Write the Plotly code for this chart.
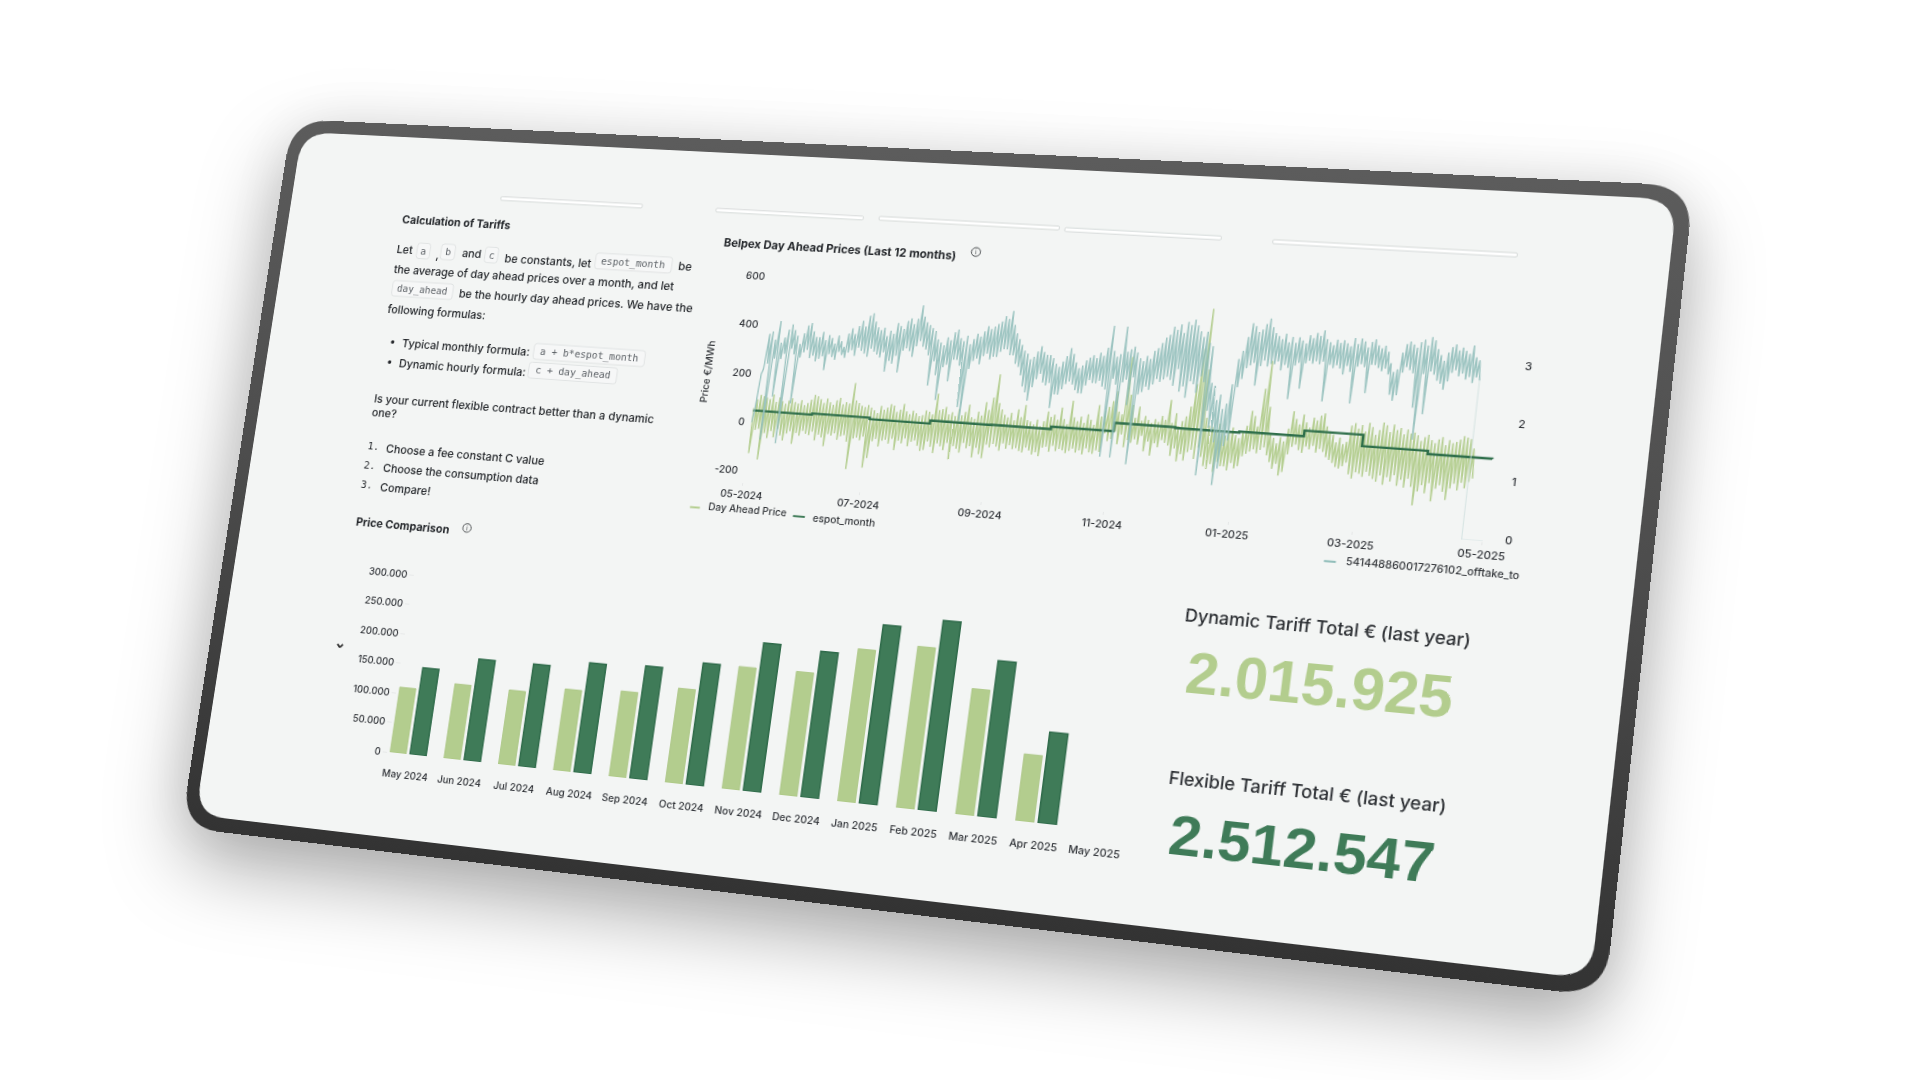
import json
import numpy as np
import pandas as pd
import plotly.graph_objects as go

# ---------- data ----------
months = ["May 2024","Jun 2024","Jul 2024","Aug 2024","Sep 2024","Oct 2024","Nov 2024","Dec 2024",
          "Jan 2025","Feb 2025","Mar 2025","Apr 2025","May 2025"]
dynamic_tariff = [110000,125000,124000,135000,141000,155000,200000,201000,247000,260000,201000,106000,None]
flexible_tariff = [146000,170000,171000,182000,186000,200000,242000,237000,289000,305000,249000,144000,None]

espot_dates = ["2024-05-01","2024-06-01","2024-07-01","2024-08-01","2024-09-01","2024-10-01","2024-11-01",
               "2024-12-01","2025-01-01","2025-02-01","2025-03-01","2025-04-01","2025-05-01"]
espot_month = [49,54,48,60,61,71,104,101,105,127,83,71,70]

day_ahead = [
 60,-126,95,-30,115,-25,110,-150,105,-40,100,-60,120,-30,90,-55,110,-20,95,-45,85,-65,100,-35,110,-25,95,-75,90,-30,105,-40,85,-20,95,-30,
 110,-35,130,-20,125,-55,115,-30,100,-40,120,-75,105,-25,95,-30,115,-20,125,-45,100,-30,110,-25,105,-50,190,-160,120,-35,110,-30,100,-40,95,-25,
 105,-150,95,-110,85,-40,75,-30,105,-60,90,-35,100,-30,115,-45,110,-25,85,-70,95,-30,120,-40,90,-20,80,-50,95,-30,85,-25,75,-45,80,-65,
 100,-60,95,-25,85,-45,170,-70,105,-30,110,-40,120,-55,90,-25,100,-90,85,-35,115,-45,90,-60,105,-20,135,-40,85,-30,80,-75,110,-35,95,-60,
 150,-75,120,-20,170,-30,265,-15,150,-25,125,-40,105,-10,95,-30,115,-15,85,-30,130,-25,100,-35,150,-40,90,-20,85,-30,75,-45,95,-35,70,-50,
 90,-15,130,-10,110,-30,120,-5,100,-25,150,-15,105,-20,85,-30,180,-20,115,-10,100,-25,120,-15,95,-30,130,-5,110,-20,90,-25,170,-10,125,-15,
 150,60,165,30,190,40,230,70,150,20,140,60,370,10,220,40,180,30,130,45,175,25,120,60,140,0,125,40,115,-15,130,35,120,20,145,50,
 130,40,210,30,120,-10,160,20,110,-30,130,0,150,-25,190,10,280,20,420,-15,580,30,340,-5,150,-40,120,-50,115,-30,100,-60,130,-20,95,-35,
 85,-35,100,-50,120,-20,90,-40,80,-30,110,10,130,20,190,30,170,40,130,25,280,40,390,50,210,20,110,-5,90,-30,70,-10,95,-55,80,-40,
 130,30,200,60,170,70,150,50,190,40,160,65,140,55,180,70,170,45,190,60,200,50,150,30,130,20,120,10,90,-5,110,-10,85,0,95,15,
 160,-30,170,-45,150,-20,165,-25,140,-35,175,-15,160,-30,130,-40,150,-50,180,-25,170,-60,145,-30,175,-45,155,-20,165,-60,140,-35,160,-65,145,-30,
 150,-60,140,-130,120,-75,135,-50,145,-80,125,-40,115,-110,130,-60,140,-45,110,-70,130,-100,120,-55,125,-35,135,-60,150,-30,145,-50,140,-25,105,-10,
]
offtake = [
 1.1,1.3,2.0,2.1,2.75,2.2,2.8,0.8,2.65,2.3,3.0,1.6,2.6,2.3,2.7,2.4,2.85,0.75,2.95,2.5,2.85,2.4,2.75,1.5,2.6,2.35,2.8,2.45,2.95,2.5,3.0,2.35,2.85,2.4,2.75,2.3,
 2.75,2.35,2.85,2.4,2.7,2.15,2.8,2.45,2.75,2.4,2.65,2.35,2.8,2.5,2.7,2.45,2.6,2.4,2.85,2.5,2.95,2.55,2.85,2.45,3.0,2.6,3.1,2.55,3.0,2.5,3.2,2.45,3.25,2.6,3.1,2.55,
 3.0,2.5,2.95,2.45,3.0,2.55,2.85,2.2,2.95,2.4,2.9,2.35,3.1,2.5,3.05,2.2,3.0,2.6,3.15,2.65,3.2,2.6,3.1,2.5,3.2,2.7,3.45,2.8,3.25,2.7,3.15,2.65,3.1,2.55,3.05,2.0,
 3.0,2.45,2.85,2.2,2.8,1.75,2.75,2.35,2.9,2.4,2.85,2.1,3.0,2.5,3.05,2.5,2.9,2.4,2.85,1.65,2.95,1.4,2.8,2.35,2.9,2.5,3.0,2.55,2.95,2.45,3.05,2.6,3.15,2.65,3.1,2.55,
 3.15,2.6,3.2,2.6,3.25,2.7,3.35,2.75,3.3,2.75,3.45,2.65,3.2,2.65,3.05,2.5,2.95,2.45,2.85,2.3,2.75,2.1,2.7,2.0,2.6,1.85,2.65,2.1,2.75,2.25,2.85,2.35,2.75,2.2,2.7,2.15,
 2.7,2.2,2.65,1.75,2.55,2.0,2.5,2.0,2.6,2.1,2.7,2.2,2.85,2.25,2.75,2.2,2.6,2.1,2.5,2.05,2.55,2.05,2.65,2.2,2.7,2.3,2.75,2.25,2.7,2.25,2.8,2.3,2.75,2.2,2.9,2.15,
 3.3,0.95,2.85,2.35,2.75,2.25,2.8,0.95,3.3,2.3,2.85,2.35,2.9,1.9,2.95,2.4,2.85,0.85,2.75,2.1,2.7,2.15,2.8,2.25,2.75,2.2,2.9,2.3,2.95,2.4,3.05,2.35,3.15,2.4,3.2,2.45,
 3.35,2.4,3.3,2.3,3.4,2.6,3.25,2.2,3.45,2.3,3.4,2.1,3.5,2.4,3.4,2.35,3.3,2.2,3.2,2.5,3.3,2.4,3.1,0.75,3.05,1.9,2.4,1.6,2.35,1.55,2.1,1.35,2.2,0.6,1.95,0.9,
 2.05,1.3,2.4,1.4,2.85,2.35,3.0,2.5,3.25,2.7,3.5,2.75,3.45,2.8,3.35,2.4,3.4,2.75,3.5,2.85,3.6,2.75,3.45,2.8,3.35,2.8,3.3,2.85,3.25,2.7,3.35,2.8,3.2,2.75,3.3,2.2,
 3.2,2.8,3.3,2.85,3.25,2.4,3.2,2.85,3.35,2.9,3.3,2.85,3.4,2.9,3.35,2.85,3.45,2.9,3.3,2.2,3.25,2.85,3.2,2.8,3.3,2.85,3.25,2.8,3.3,2.7,3.25,2.85,3.2,2.75,3.35,2.2,
 3.25,2.85,3.35,2.9,3.3,2.85,3.2,2.4,3.3,2.9,3.35,2.9,3.25,2.85,3.2,2.8,3.25,2.85,3.15,2.75,2.95,2.4,2.8,2.3,2.85,2.4,3.15,2.8,3.3,2.9,3.35,2.85,3.3,2.8,3.25,2.2,
 3.35,1.65,3.4,2.8,3.3,2.1,3.45,2.85,3.4,2.8,3.25,2.7,3.15,2.65,3.05,2.55,3.2,2.7,3.3,2.85,3.35,2.9,3.25,2.8,3.3,2.85,3.25,2.75,3.2,2.8,3.35,2.7,3.15,2.8,3.1,2.75,
]
offtake_tail_dates = ["2025-04-21","2025-04-21 06:00","2025-05-01"]
offtake_tail = [2.75,0,0]

price_ticks = [-200,0,200,400,600]
price_labels = ["-200","0","200","400","600"]
offtake_ticks = [0,1,2,3]
date_ticks = ["2024-05-01","2024-07-01","2024-09-01","2024-11-01","2025-01-01","2025-03-01","2025-05-01"]
date_labels = ["05-2024","07-2024","09-2024","11-2024","01-2025","03-2025","05-2025"]
bar_ticks = [0,50000,100000,150000,200000,250000,300000]

LIGHT="#b3cd8e"; DARK="#3f7b58"; DARK_EDGE="#2f6b4a"; TEAL="#8fbdb9"; SCREEN="#f3f5f4"; INK="#24272b"

# ---------- flat page <-> photo mapping ----------
W,H = 1440,780
corners = [(292,119),(1694,186),(1605,997),(181,827.4)]
flat = [(0,0),(W,0),(W,H),(0,H)]
A=[];b=[]
for (x,y),(u,v) in zip(flat,corners):
    A.append([x,y,1,0,0,0,-u*x,-u*y]); b.append(u)
    A.append([0,0,0,x,y,1,-v*x,-v*y]); b.append(v)
h=np.linalg.solve(np.array(A,float),np.array(b,float))
M=np.array([[h[0],h[1],h[2]],[h[3],h[4],h[5]],[h[6],h[7],1.0]])
Mi=np.linalg.inv(M)
def P(x,y):
    p=Mi@np.array([x,y,1.0]); return p[0]/p[2],p[1]/p[2]
def fx(x): return x/W
def fy(y): return 1-y/H

shapes=[];ann=[]
def rrect(x0,y0,x1,y1,r):
    pts=[("M",x0+r,y0),("L",x1-r,y0),("Q",x1,y0,x1,y0+r),("L",x1,y1-r),("Q",x1,y1,x1-r,y1),
         ("L",x0+r,y1),("Q",x0,y1,x0,y1-r),("L",x0,y0+r),("Q",x0,y0,x0+r,y0)]
    s=""
    for p in pts:
        s+=p[0]+" "+" ".join(f"{fx(p[i]):.5f},{fy(p[i+1]):.5f}" for i in range(1,len(p),2))+" "
    return s+"Z"
def box(x0,y0,x1,y1,r,fill,line="rgba(0,0,0,0)",lw=0,layer="below",name=None):
    d=dict(type="path",xref="paper",yref="paper",path=rrect(x0,y0,x1,y1,r),fillcolor=fill,
           line=dict(color=line,width=lw),layer=layer)
    if name: d["name"]=name
    shapes.append(d)
def seg(x0,y0,x1,y1,color,w):
    shapes.append(dict(type="line",xref="paper",yref="paper",x0=fx(x0),y0=fy(y0),x1=fx(x1),y1=fy(y1),
                       line=dict(color=color,width=w),layer="above"))
def text(sx,sy,s,size=12,color=INK,family="Inter",anchor="left",angle=0,weight=400):
    x,y=P(sx,sy)
    ann.append(dict(xref="paper",yref="paper",x=fx(x),y=fy(y),text=s,showarrow=False,xanchor=anchor,yanchor="middle",
                    textangle=angle,font=dict(size=size,color=color,family=family,weight=weight),borderpad=0))
def chip(sx0,sx1,sy,s,size=10.5):
    cx,cy=P((sx0+sx1)/2,sy); xa,_=P(sx0,sy); xb,_=P(sx1,sy); hw=(xb-xa)/2
    box(cx-hw,cy-8.5,cx+hw,cy+8.5,3,"#f6f7f7","#e0e3e3",1)
    text((sx0+sx1)/2,sy,s,size,"#5c6166","DejaVu Sans Mono","center")
def info(sx,sy):
    x,y=P(sx,sy)
    shapes.append(dict(type="circle",xref="paper",yref="paper",x0=fx(x-4.6),x1=fx(x+4.6),y0=fy(y+4.6),y1=fy(y-4.6),
                       line=dict(color="#4a4d50",width=1),fillcolor="rgba(0,0,0,0)",layer="above"))
    text(sx,sy,"i",7,"#4a4d50","Inter","center")
def strip(sx0,sy0,sx1,sy1):
    a=P(sx0,sy0);c=P(sx1,sy1)
    box(a[0],c[1]-4,c[0],c[1],1,"#ffffff","#d5d9d8",1)

# device
box(0,0,W,H,46,"#464646",name="device")
box(14,14,W-14,H-15,34,SCREEN)
for s in [(501,198,642,208),(716,211,863,220),(879,220,1059,230),(1065,229,1221,240),(1273,241,1517,257)]:
    strip(*s)

# left text
text(401,219,"Calculation of Tariffs",12,weight=650)
b1=dict(size=12.1,weight=480)
text(396,249,"Let",**b1); chip(417,430,251,"a"); text(435,255,",",**b1); chip(441,455,252,"b")
text(461,253,"and",**b1); chip(485,498,255,"c"); text(504,258,"be constants, let",**b1)
chip(595,672,263,"espot_month"); text(677,266,"be",**b1)
text(393,269,"the average of day ahead prices over a month, and let",**b1)
chip(392,453,290,"day_ahead"); text(458,293,"be the hourly day ahead prices. We have the",**b1)
text(387,309,"following formulas:",**b1)
text(389,341,"•",**b1); text(401,343,"Typical monthly formula:",**b1); chip(533,645,355,"a + b*espot_month")
text(386,361,"•",**b1); text(398,363,"Dynamic hourly formula:",**b1); chip(528,617,373,"c + day_ahead")
text(373,398,"Is your current flexible contract better than a dynamic",**b1)
text(371,412,"one?",**b1)
text(367,446,"1.",11,INK,"DejaVu Sans Mono"); text(385,448,"Choose a fee constant C value",**b1)
text(363,465,"2.",11,INK,"DejaVu Sans Mono"); text(382,468,"Choose the consumption data",**b1)
text(360,484,"3.",11,INK,"DejaVu Sans Mono"); text(379,487,"Compare!",**b1)
text(355,521,"Price Comparison",12,weight=650); info(467,528)
text(723,242,"Belpex Day Ahead Prices (Last 12 months)",11.9,weight=650); info(976,252)

# KPI
text(1184,615,"Dynamic Tariff Total € (last year)",17.3,"#2d3034",weight=450)
text(1168,777,"Flexible Tariff Total € (last year)",17.3,"#2d3034",weight=450)
text(1185,673,"<b>2.015.925</b>",56.5,LIGHT,"Liberation Sans")
text(1168,834,"<b>2.512.547</b>",56,DARK,"Liberation Sans")

# chevron
cx,cy=P(340,646)
seg(cx-3,cy-2,cx,cy+1.5,"#333",2); seg(cx+3,cy-2,cx,cy+1.5,"#333",2)

# ---------- bar chart geometry ----------
bx0,by0=P(388,752)
_,by300=P(413,575)
c0,_=P(408,754.5); c12,_=P(1097,829)
pitch=(c12-c0)/12
bx1=c12+pitch/2
bar_max=320000
bar_top=by0-(by0-by300)*bar_max/300000
bar_left_val=(bx0-c0)/pitch

# ---------- time chart geometry ----------
tx0,tyb=P(743,482)
txe,_=P(1483,539)
txr,_=P(1492,540)
_,yp600=P(770,277); _,ypm200=P(745,471)
pp=(ypm200-yp600)/800
t_top=yp600-12
p_min=-200-(tyb-ypm200)/pp
p_max=600+(yp600-t_top)/pp
_,y20=P(1508,540); _,y23=P(1528,366)
up=(y20-y23)/3
o_max=(tyb-t_top)/up
extra=365*(txr-txe)/(txe-tx0)
t_end=pd.Timestamp("2025-05-01")+pd.Timedelta(days=extra)

# legends drawn next to the chart
def sample(sx0,sx1,sy,color):
    a=P(sx0,sy);c=P(sx1,sy); seg(a[0],a[1],c[0],a[1],color,2)
sample(690,700,507,LIGHT); text(707,507,"Day Ahead Price",10.4,"#33363a",weight=480)
sample(793,805,516,DARK); text(812,518,"espot_month",10.4,"#33363a",weight=480)
sample(1324,1336,561,TEAL); text(1345,561,"541448860017276102_offtake_to",10.2,"#33363a",weight=480)
text(708,372,"Price €/MWh",10.5,"#33363a","Inter","center",-90,weight=480)

fig=go.Figure()
fig.add_bar(x=months,y=dynamic_tariff,name="Dynamic",width=0.30,offset=-0.335,
            marker=dict(color=LIGHT,line=dict(color="#a9c582",width=0.8)),xaxis="x",yaxis="y")
fig.add_bar(x=months,y=flexible_tariff,name="Flexible",width=0.30,offset=0.035,
            marker=dict(color=DARK,line=dict(color=DARK_EDGE,width=1.5)),xaxis="x",yaxis="y")

x_da=pd.date_range("2024-05-01","2025-04-23",periods=len(day_ahead))
x_off=pd.date_range("2024-05-01","2025-04-21",periods=len(offtake))
fig.add_scatter(x=x_off,y=offtake,mode="lines",name="541448860017276102_offtake_tot",
                line=dict(color=TEAL,width=1.4),opacity=0.85,xaxis="x2",yaxis="y3")
fig.add_scatter(x=offtake_tail_dates,y=offtake_tail,mode="lines",showlegend=False,
                line=dict(color="#cfe0de",width=0.8),xaxis="x2",yaxis="y3")
fig.add_scatter(x=x_da,y=day_ahead,mode="lines",name="Day Ahead Price",line=dict(color=LIGHT,width=1.4),opacity=0.95,xaxis="x2",yaxis="y2")
fig.add_scatter(x=espot_dates,y=espot_month,mode="lines",name="espot_month",line=dict(color="#2f6f4b",width=2.4,shape="hv"),xaxis="x2",yaxis="y2")

tick_font=dict(size=10.5,color="#303338",family="Inter",weight=480)
fig.update_layout(
    template="none",
    width=W,height=H,autosize=False,margin=dict(l=0,r=0,t=0,b=0,pad=0,autoexpand=False),
    paper_bgcolor="rgba(0,0,0,0)",plot_bgcolor="rgba(0,0,0,0)",showlegend=False,
    separators=",.",barmode="overlay",
    shapes=shapes,annotations=ann,
    xaxis=dict(domain=[fx(bx0),fx(bx1)],range=[bar_left_val,12.5],anchor="y",showgrid=False,zeroline=False,showline=False,automargin=False,
               tickfont=tick_font,ticks="outside",tickcolor="rgba(0,0,0,0)",tickmode="array",tickvals=months,ticktext=months,tickangle=0,ticklen=12),
    yaxis=dict(domain=[fy(by0),fy(bar_top)],range=[0,bar_max],anchor="x",showgrid=False,zeroline=False,showline=False,automargin=False,
               tickmode="array",tickvals=bar_ticks,tickformat=",d",tickfont=tick_font,ticks="outside",ticklen=5,tickcolor="#e6e8e8"),
    xaxis2=dict(domain=[fx(tx0),fx(txr)],range=["2024-05-01",t_end],anchor="y2",showgrid=False,zeroline=False,showline=False,automargin=False,
                type="date",tickmode="array",tickvals=date_ticks,ticktext=date_labels,tickfont=tick_font,ticks="outside",ticklen=3,tickcolor="#e6e8e8",tickangle=0),
    yaxis2=dict(domain=[fy(tyb),fy(t_top)],range=[p_min,p_max],anchor="x2",showgrid=False,zeroline=False,showline=False,automargin=False,
                tickmode="array",tickvals=price_ticks,ticktext=price_labels,tickfont=tick_font,ticks="outside",ticklen=4,tickcolor="rgba(0,0,0,0)"),
    yaxis3=dict(domain=[fy(tyb),fy(t_top)],range=[0,o_max],anchor="x2",overlaying="y2",side="right",showgrid=False,zeroline=False,showline=False,automargin=False,
                tickmode="array",tickvals=offtake_ticks,tickfont=tick_font,ticks="outside",ticklen=9,tickcolor="rgba(0,0,0,0)",ticklabelshift=-3),
)

mat=[M[0,0],M[1,0],0,M[2,0], M[0,1],M[1,1],0,M[2,1], 0,0,1,0, M[0,2],M[1,2],0,M[2,2]]
js=f"""
var gd=document.getElementById('dash');
document.documentElement.style.overflow='hidden';
document.body.style.margin='0';document.body.style.background='#fff';
gd.style.position='absolute';gd.style.left='0';gd.style.top='0';gd.style.width='{W}px';gd.style.height='{H}px';
gd.style.transformOrigin='0 0';gd.style.transform='matrix3d({",".join(f"{v:.10f}" for v in mat)})';
var w=gd.parentElement;w.style.position='absolute';w.style.left='0';w.style.top='0';w.style.width='1920px';w.style.height='1080px';
w.style.filter='drop-shadow(0 0 30px rgba(0,0,0,.08)) drop-shadow(-4px 34px 38px rgba(0,0,0,.30))';
function paintFrame(){{
  var svg=gd.querySelector('svg.main-svg');if(!svg)return;
  var ns='http://www.w3.org/2000/svg';
  var g=document.createElementNS(ns,'linearGradient');g.setAttribute('id','frameGrad');g.setAttribute('x1','0');g.setAttribute('y1','0');g.setAttribute('x2','0');g.setAttribute('y2','1');
  [['0','#5c5c5c'],['0.5','#4c4c4c'],['1','#333333']].forEach(function(s){{var e=document.createElementNS(ns,'stop');e.setAttribute('offset',s[0]);e.setAttribute('stop-color',s[1]);g.appendChild(e);}});
  var d=svg.querySelector('defs');if(d)d.appendChild(g);
  var p=gd.querySelector('.shapelayer path');if(p)p.style.fill='url(#frameGrad)';
}}
paintFrame();
"""
fig.write_html("out.html",div_id="dash",post_script=js,config=dict(displayModeBar=False))
